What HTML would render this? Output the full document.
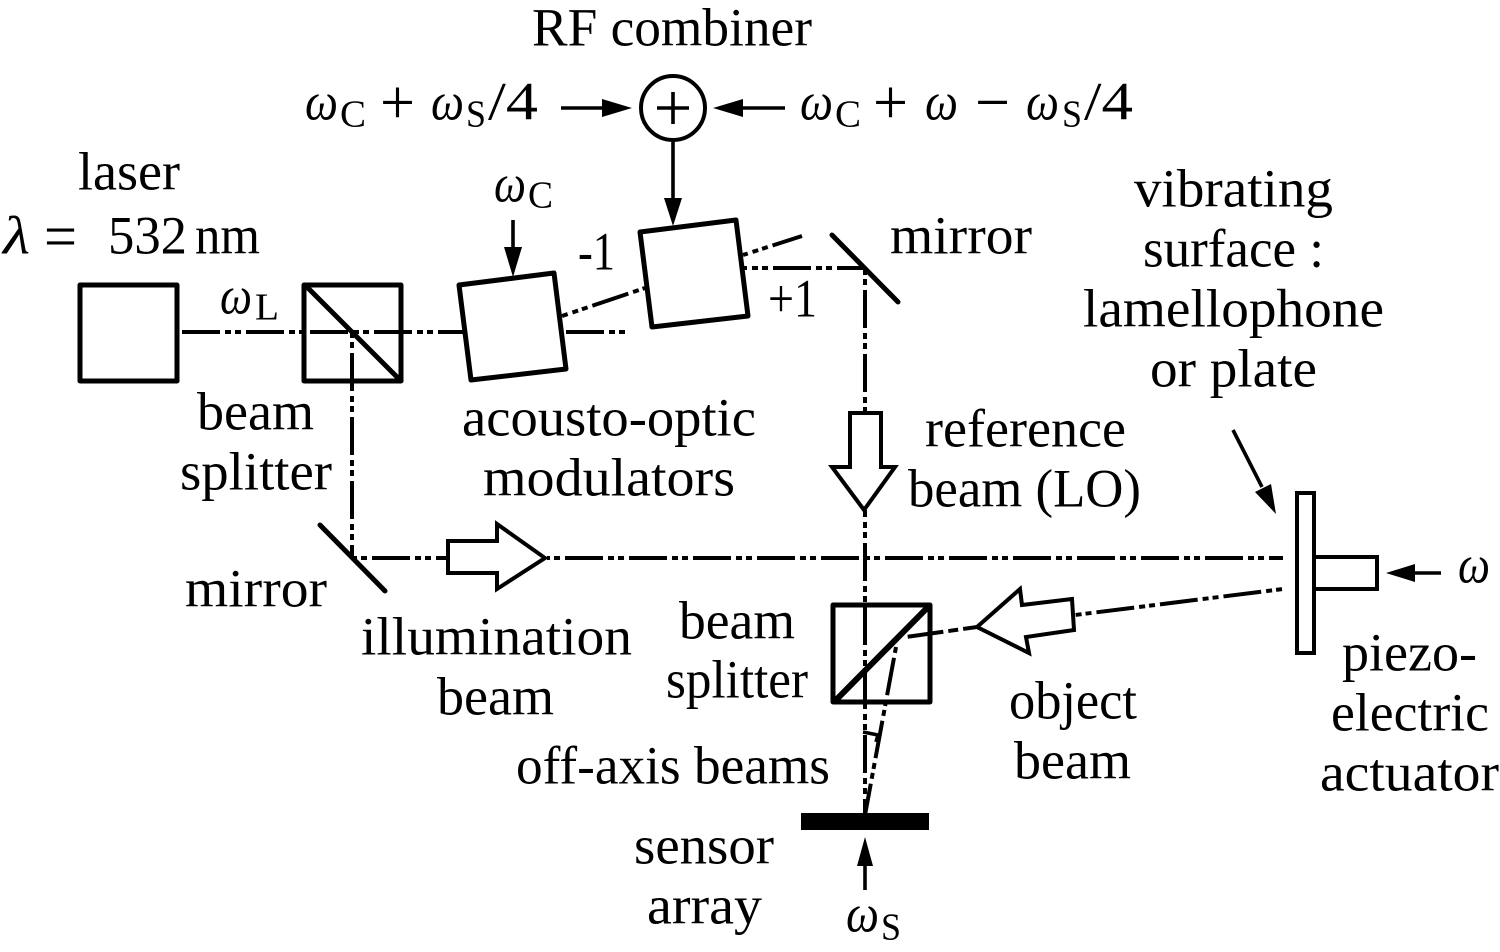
<!DOCTYPE html>
<html><head><meta charset="utf-8"><style>
html,body{margin:0;padding:0;background:#fff}
svg{display:block}
text{font-family:"Liberation Serif",serif;font-size:54px;fill:#000}
.m{font-style:italic;font-size:54px}
.s{font-size:38px}
.p{font-size:64px}
.b{fill:none;stroke:#000;stroke-width:4;stroke-dasharray:38 5 6 4 6 5}
.o{fill:#fff;stroke:#000;stroke-width:5;stroke-linejoin:round}
.t{fill:#fff;stroke:#000;stroke-width:4;stroke-linejoin:miter}
.l{fill:none;stroke:#000;stroke-width:3.6}
</style></head><body>
<svg width="1500" height="952" viewBox="0 0 1500 952" xmlns="http://www.w3.org/2000/svg">
<rect width="1500" height="952" fill="#fff"/>

<!-- beams -->
<path class="b" d="M182 332H463"/>
<path class="b" d="M566 332H627"/>
<path class="b" d="M352 332V558" stroke-dashoffset="43"/>
<path class="b" d="M352 558H447" stroke-dashoffset="44"/>
<path class="b" d="M547 558H1283" stroke-dashoffset="46"/>
<path class="b" d="M562 316L645 288" stroke-dashoffset="32"/>
<path class="b" d="M743 255L802 236" stroke-dashoffset="33"/>
<path class="b" d="M743 268H865" stroke-dashoffset="34"/>
<path class="b" d="M865 268V412" stroke-dashoffset="42"/>
<path class="b" d="M865 510V815" stroke-dashoffset="31"/>
<path class="b" d="M1283 589L1075 615" stroke-dashoffset="42"/>
<path class="b" d="M977 627L906 637" style="stroke-dasharray:14 5 10 5 36 100"/>
<path class="b" d="M896 647L865 815" stroke-dashoffset="53"/>
<path class="l" d="M863 732L878 735L876 742" stroke-width="3"/>

<!-- components -->
<rect x="80" y="285" width="97" height="96" fill="none" stroke="#000" stroke-width="5" stroke-linejoin="round"/>
<rect x="304" y="285" width="97" height="96" fill="none" stroke="#000" stroke-width="5" stroke-linejoin="round"/>
<path d="M305 285L401 381" fill="none" stroke="#000" stroke-width="5"/>
<path class="o" d="M459 285L554 273L566 369L471 380Z"/>
<path class="o" d="M640 232L736 220L748 316L652 327Z"/>
<path d="M832 235L898 302" stroke="#000" stroke-width="5" stroke-linecap="round"/>
<path d="M320 525L385 591" stroke="#000" stroke-width="5" stroke-linecap="round"/>
<rect x="833" y="605" width="97" height="97" fill="none" stroke="#000" stroke-width="5" stroke-linejoin="round"/>
<path d="M835 701L929 606" stroke="#000" stroke-width="6"/>
<rect x="801" y="813" width="128" height="17" fill="#000"/>
<rect x="1297" y="493" width="17" height="160" fill="#fff" stroke="#000" stroke-width="4"/>
<rect x="1314" y="557" width="63" height="32" fill="#fff" stroke="#000" stroke-width="4"/>

<!-- block arrows -->
<path class="t" d="M850 413H881V467H895L864 510L832 467H850Z"/>
<path class="t" d="M448 541H497V524L545 558L497 589V573H448Z"/>
<path class="t" d="M977 627L1020 589L1022 605L1072 599L1074 630L1026 637L1029 653Z"/>

<!-- RF combiner -->
<circle cx="673" cy="108" r="32" fill="#fff" stroke="#000" stroke-width="4"/>
<path d="M657 108H689M673 92V124" stroke="#000" stroke-width="3.6"/>

<!-- thin arrows -->
<path d="M561 108H605" stroke="#000" stroke-width="3.6"/><path d="M632 108L602 99V117Z"/>
<path d="M742 108H785" stroke="#000" stroke-width="3.6"/><path d="M713 108L743 99V117Z"/>
<path d="M673 141V200" stroke="#000" stroke-width="3.6"/><path d="M673 226L664 198H682Z"/>
<path d="M513 220V250" stroke="#000" stroke-width="3.6"/><path d="M513 277L504 247H522Z"/>
<path d="M1233 430L1262 487" stroke="#000" stroke-width="3.6"/><path d="M1276 514L1255 492L1271 484Z"/>
<path d="M1412 573H1441" stroke="#000" stroke-width="3.6"/><path d="M1386 573L1415 564V582Z"/>
<path d="M865 864V890" stroke="#000" stroke-width="3.6"/><path d="M865 837L857 866H873Z"/>

<!-- labels -->
<g transform="translate(0,1.5)">
<text x="532" y="44" textLength="280" lengthAdjust="spacingAndGlyphs">RF combiner</text>
<text x="78" y="188" textLength="102" lengthAdjust="spacingAndGlyphs">laser</text>
<text class="m" x="3" y="252" textLength="27" lengthAdjust="spacingAndGlyphs">λ</text>
<text class="p" x="44" y="256" textLength="33" lengthAdjust="spacingAndGlyphs">=</text>
<text x="108" y="252" textLength="79" lengthAdjust="spacingAndGlyphs">532</text>
<text x="195" y="252" textLength="65" lengthAdjust="spacingAndGlyphs">nm</text>

<text class="m" x="305" y="118" textLength="33" lengthAdjust="spacingAndGlyphs">ω</text>
<text class="s" x="340" y="125" textLength="26" lengthAdjust="spacingAndGlyphs">C</text>
<text class="p" x="380" y="122" textLength="35" lengthAdjust="spacingAndGlyphs">+</text>
<text class="m" x="431" y="118" textLength="33" lengthAdjust="spacingAndGlyphs">ω</text>
<text class="s" x="466" y="125" textLength="20" lengthAdjust="spacingAndGlyphs">S</text>
<text x="488" y="118" textLength="50" lengthAdjust="spacingAndGlyphs">/4</text>

<text class="m" x="800" y="118" textLength="33" lengthAdjust="spacingAndGlyphs">ω</text>
<text class="s" x="835" y="125" textLength="26" lengthAdjust="spacingAndGlyphs">C</text>
<text class="p" x="873" y="122" textLength="35" lengthAdjust="spacingAndGlyphs">+</text>
<text class="m" x="925" y="118" textLength="33" lengthAdjust="spacingAndGlyphs">ω</text>
<text class="p" x="975" y="122" textLength="35" lengthAdjust="spacingAndGlyphs">−</text>
<text class="m" x="1026" y="118" textLength="33" lengthAdjust="spacingAndGlyphs">ω</text>
<text class="s" x="1062" y="125" textLength="20" lengthAdjust="spacingAndGlyphs">S</text>
<text x="1084" y="118" textLength="49" lengthAdjust="spacingAndGlyphs">/4</text>

<text class="m" x="494" y="200" textLength="32" lengthAdjust="spacingAndGlyphs">ω</text>
<text class="s" x="528" y="206" textLength="25" lengthAdjust="spacingAndGlyphs">C</text>
<text class="m" x="220" y="312" textLength="32" lengthAdjust="spacingAndGlyphs">ω</text>
<text class="s" x="255" y="318" textLength="24" lengthAdjust="spacingAndGlyphs">L</text>

<text x="578" y="268" textLength="37" lengthAdjust="spacingAndGlyphs">-1</text>
<text x="768" y="315" textLength="49" lengthAdjust="spacingAndGlyphs">+1</text>
<text x="890" y="252" textLength="142" lengthAdjust="spacingAndGlyphs">mirror</text>

<text x="1134" y="205" textLength="199" lengthAdjust="spacingAndGlyphs">vibrating</text>
<text x="1143" y="265" textLength="181" lengthAdjust="spacingAndGlyphs">surface :</text>
<text x="1083" y="325" textLength="301" lengthAdjust="spacingAndGlyphs">lamellophone</text>
<text x="1150" y="385" textLength="167" lengthAdjust="spacingAndGlyphs">or plate</text>

<text x="197" y="428" textLength="117" lengthAdjust="spacingAndGlyphs">beam</text>
<text x="180" y="488" textLength="152" lengthAdjust="spacingAndGlyphs">splitter</text>
<text x="462" y="434" textLength="294" lengthAdjust="spacingAndGlyphs">acousto-optic</text>
<text x="483" y="494" textLength="252" lengthAdjust="spacingAndGlyphs">modulators</text>
<text x="925" y="445" textLength="201" lengthAdjust="spacingAndGlyphs">reference</text>
<text x="908" y="505" textLength="233" lengthAdjust="spacingAndGlyphs">beam (LO)</text>

<text x="185" y="605" textLength="142" lengthAdjust="spacingAndGlyphs">mirror</text>
<text x="361" y="653" textLength="271" lengthAdjust="spacingAndGlyphs">illumination</text>
<text x="437" y="713" textLength="117" lengthAdjust="spacingAndGlyphs">beam</text>
<text x="679" y="637" textLength="116" lengthAdjust="spacingAndGlyphs">beam</text>
<text x="666" y="696" textLength="142" lengthAdjust="spacingAndGlyphs">splitter</text>
<text x="1009" y="717" textLength="128" lengthAdjust="spacingAndGlyphs">object</text>
<text x="1014" y="777" textLength="117" lengthAdjust="spacingAndGlyphs">beam</text>
<text x="516" y="782" textLength="314" lengthAdjust="spacingAndGlyphs">off-axis beams</text>
<text x="634" y="862" textLength="140" lengthAdjust="spacingAndGlyphs">sensor</text>
<text x="647" y="922" textLength="115" lengthAdjust="spacingAndGlyphs">array</text>
<text class="m" x="846" y="930" textLength="33" lengthAdjust="spacingAndGlyphs">ω</text>
<text class="s" x="881" y="938" textLength="20" lengthAdjust="spacingAndGlyphs">S</text>

<text x="1342" y="669" textLength="135" lengthAdjust="spacingAndGlyphs">piezo-</text>
<text x="1331" y="729" textLength="158" lengthAdjust="spacingAndGlyphs">electric</text>
<text x="1320" y="789" textLength="179" lengthAdjust="spacingAndGlyphs">actuator</text>
<text class="m" x="1458" y="581" textLength="32" lengthAdjust="spacingAndGlyphs">ω</text>
</g>
</svg>
</body></html>
